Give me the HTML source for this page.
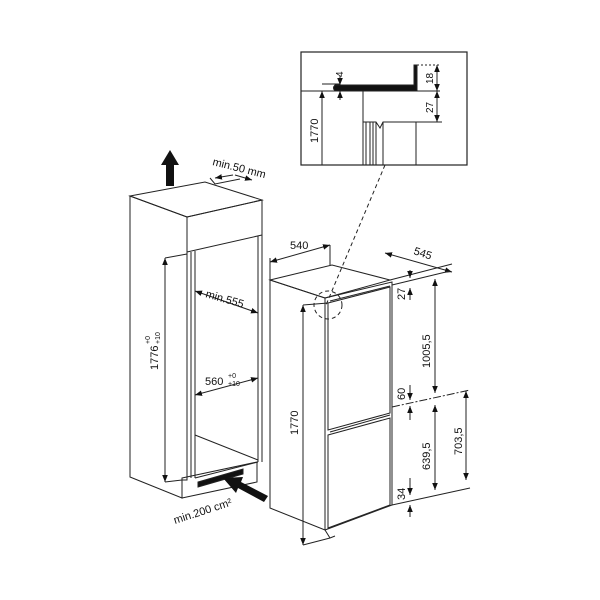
<!DOCTYPE html>
<html><head><meta charset="utf-8"><style>
html,body{margin:0;padding:0;background:#fff;}
svg{display:block;}
text{font-family:"Liberation Sans",sans-serif;fill:#111;}
</style></head><body>
<svg width="600" height="600" viewBox="0 0 600 600" xmlns="http://www.w3.org/2000/svg">
<defs>
<marker id="a" viewBox="0 0 10 10" refX="10" refY="5" markerWidth="7" markerHeight="7" orient="auto-start-reverse"><path d="M0,1 L10,5 L0,9 z" fill="#111"/></marker>
</defs>
<g fill="none" stroke="#222" stroke-width="1">
<rect x="301" y="52" width="166" height="113" stroke-width="1.2"/>
<line x1="301" y1="91" x2="440" y2="91"/>
<path d="M335,85 L414,85 L414,65 L417,65 L417,91 L335,91 Q332,88 335,85z" fill="#111"/>
<line x1="322" y1="91" x2="322" y2="165"/>
<line x1="322" y1="84" x2="340" y2="84"/>
<line x1="363" y1="91" x2="363" y2="165"/>
<path d="M363,122 L376,122 L380,128 L383,122 L416,122 L416,165 M366,122 V165 M370,122 V165 M373,122 V165 M376,122 V165 M383,122 V165"/>
<line x1="416" y1="122" x2="442" y2="122"/>
<line x1="417" y1="65" x2="440" y2="65" stroke-dasharray="2,2"/>
<line x1="437" y1="65" x2="437" y2="91" marker-start="url(#a)" marker-end="url(#a)"/>
<line x1="437" y1="91" x2="437" y2="122" marker-start="url(#a)" marker-end="url(#a)"/>
<line x1="322" y1="91" x2="322" y2="98" marker-start="url(#a)"/>
<line x1="340" y1="76" x2="340" y2="85" marker-end="url(#a)"/>
<line x1="340" y1="100" x2="340" y2="91" marker-end="url(#a)"/>
<line x1="385" y1="165" x2="326" y2="305" stroke-dasharray="4,3"/>
<circle cx="328" cy="305" r="14" stroke-dasharray="4,3"/>

<path d="M130,196 L205,182 L262,200 L187,217 Z"/>
<path d="M130,196 L187,217 L187,480 L182,480 L182,498 L130,477 Z"/>
<path d="M187,217 L262,200 L262,235 L187,252 Z"/>
<line x1="195" y1="251" x2="195" y2="478"/>
<line x1="191" y1="252" x2="191" y2="478"/>
<line x1="262" y1="235" x2="262" y2="462"/>
<line x1="258" y1="236" x2="258" y2="462"/>
<path d="M195,435 L258,460 M195,478 L258,462"/>
<path d="M182,478 L257,462 L257,482 L182,498 Z"/>
<path d="M198,487 L243,474 L243,469 L198,482 Z" fill="#111"/>
<path d="M210,178 L215,184 L240,179" />
<line x1="165" y1="258" x2="165" y2="482" marker-start="url(#a)" marker-end="url(#a)"/>
<line x1="165" y1="258" x2="187" y2="254"/>
<line x1="165" y1="482" x2="182" y2="480"/>
<line x1="195" y1="291" x2="258" y2="313" marker-start="url(#a)" marker-end="url(#a)"/>
<line x1="195" y1="395" x2="258" y2="378" marker-start="url(#a)" marker-end="url(#a)"/>
<line x1="215" y1="178" x2="233" y2="175" marker-start="url(#a)"/>
<line x1="235" y1="175" x2="252" y2="180" marker-end="url(#a)"/>

<path d="M270,280 L332,265 L390,280 L325,298 Z"/>
<path d="M270,280 L325,298 L325,530 L270,508 Z"/>
<path d="M325,298 L392,282 L392,505 L325,530"/>
<path d="M328,303 L390,287 L390,413 L328,430 Z"/>
<path d="M328,435 L390,418 L390,505 L328,528 Z"/>
<path d="M330,301 L390,286 M330,432 L390,415"/>
<path d="M325,530 L330,538 L335,536"/>
<line x1="270" y1="280" x2="270" y2="258"/>
<line x1="270" y1="262" x2="330" y2="245" marker-start="url(#a)" marker-end="url(#a)"/>
<line x1="330" y1="245" x2="330" y2="265"/>
<line x1="385" y1="253" x2="452" y2="272" marker-start="url(#a)" marker-end="url(#a)"/>
<line x1="390" y1="280" x2="452" y2="264"/>
<line x1="392" y1="285" x2="450" y2="271"/>
<line x1="392" y1="407" x2="470" y2="390" stroke-dasharray="8,2,2,2"/>
<line x1="392" y1="505" x2="470" y2="488"/>
<line x1="410" y1="270" x2="410" y2="278" marker-end="url(#a)"/>
<line x1="410" y1="300" x2="410" y2="288" marker-end="url(#a)"/>
<line x1="435" y1="279" x2="435" y2="393" marker-start="url(#a)" marker-end="url(#a)"/>
<line x1="410" y1="385" x2="410" y2="400" marker-end="url(#a)"/>
<line x1="410" y1="420" x2="410" y2="406" marker-end="url(#a)"/>
<line x1="435" y1="405" x2="435" y2="490" marker-start="url(#a)" marker-end="url(#a)"/>
<line x1="410" y1="478" x2="410" y2="495" marker-end="url(#a)"/>
<line x1="410" y1="517" x2="410" y2="505" marker-end="url(#a)"/>
<line x1="466" y1="391" x2="466" y2="480" marker-start="url(#a)" marker-end="url(#a)"/>
<line x1="303" y1="305" x2="303" y2="545" marker-start="url(#a)" marker-end="url(#a)"/>
<line x1="303" y1="305" x2="328" y2="303"/>
<line x1="303" y1="545" x2="330" y2="538"/>
</g>
<path d="M166,186 L174,186 L174,165 L179,165 L170,150 L161,165 L166,165 Z" fill="#111"/>
<path d="M268,496 L264,502 L238,488 L236,493 L223,478 L243,477 L241,482 Z" fill="#111"/>

<text x="212" y="165" font-size="11" transform="rotate(14 212 165)">min.50 mm</text>
<text x="205" y="297" font-size="11" transform="rotate(16 205 297)">min.555</text>
<text x="205" y="385" font-size="11">560</text>
<text x="228" y="378" font-size="7">+0</text>
<text x="228" y="386" font-size="7">+10</text>
<text x="158" y="370" font-size="11" transform="rotate(-90 158 370)">1776</text>
<text x="150" y="344" font-size="7" transform="rotate(-90 150 344)">+0</text>
<text x="160" y="344" font-size="7" transform="rotate(-90 160 344)">+10</text>
<text x="175" y="524" font-size="11" transform="rotate(-18 175 524)">min.200 cm²</text>
<text x="290" y="249" font-size="11">540</text>
<text x="413" y="254" font-size="11" transform="rotate(18 413 254)">545</text>
<text x="405" y="300" font-size="11" transform="rotate(-90 405 300)">27</text>
<text x="430" y="368" font-size="11" transform="rotate(-90 430 368)">1005,5</text>
<text x="405" y="400" font-size="11" transform="rotate(-90 405 400)">60</text>
<text x="430" y="470" font-size="11" transform="rotate(-90 430 470)">639,5</text>
<text x="405" y="500" font-size="11" transform="rotate(-90 405 500)">34</text>
<text x="462" y="455" font-size="11" transform="rotate(-90 462 455)">703,5</text>
<text x="298" y="435" font-size="11" transform="rotate(-90 298 435)">1770</text>
<text x="318" y="143" font-size="11" transform="rotate(-90 318 143)">1770</text>
<text x="343" y="77" font-size="10" transform="rotate(-90 343 77)">4</text>
<text x="433" y="84" font-size="10" transform="rotate(-90 433 84)">18</text>
<text x="433" y="113" font-size="10" transform="rotate(-90 433 113)">27</text>
</svg>
</body></html>
